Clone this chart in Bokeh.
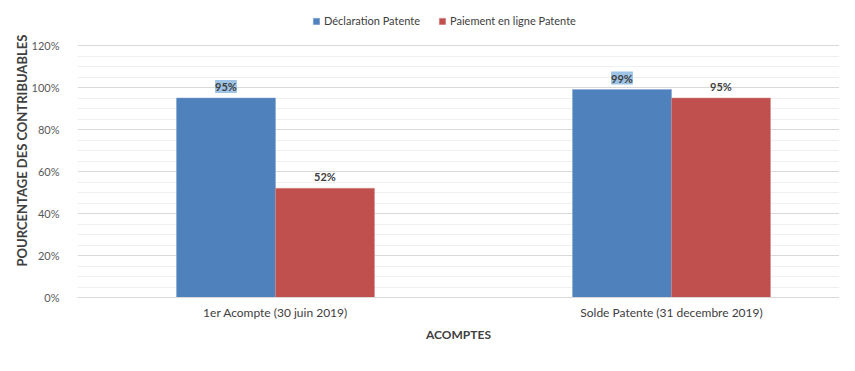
from bokeh.plotting import figure
from bokeh.models import (Range1d, FixedTicker, ColumnDataSource, Legend, LegendItem,
                          NumeralTickFormatter)
from bokeh.core.properties import value
from bokeh.embed import file_html
from bokeh.resources import INLINE

categories = ["1er Acompte (30 juin 2019)", "Solde Patente (31 decembre 2019)"]
series_names = ["Déclaration Patente", "Paiement en ligne Patente"]
declaration = [0.95, 0.99]
paiement = [0.52, 0.95]
y_ticks = [0, 0.2, 0.4, 0.6, 0.8, 1.0, 1.2]
y_minor = [0.05, 0.10, 0.15, 0.25, 0.30, 0.35, 0.45, 0.50, 0.55, 0.65, 0.70, 0.75,
           0.85, 0.90, 0.95, 1.05, 1.10, 1.15]

FONT = "Lato"
BLUE = "#4f81bd"
RED = "#c0504d"

pos = [i + 0.5 for i in range(len(categories))]
bw = 0.25

p = figure(width=839, height=352, output_backend="svg", toolbar_location=None,
           x_range=Range1d(0, 762 / 396), y_range=Range1d(0, 297 / 210),
           min_border_left=77, min_border_right=0, min_border_top=0, min_border_bottom=55)
p.outline_line_color = None

src1 = ColumnDataSource(dict(x=[v - bw / 2 for v in pos], top=declaration,
                             lbl=[f"{round(v*100)}%" for v in declaration]))
src2 = ColumnDataSource(dict(x=[v + bw / 2 for v in pos], top=paiement,
                             lbl=[f"{round(v*100)}%" for v in paiement]))

r1 = p.vbar(x="x", top="top", width=bw, source=src1, fill_color=BLUE, line_color="#7ea3d0", line_width=0.5)
r2 = p.vbar(x="x", top="top", width=bw, source=src2, fill_color=RED, line_color="#d08a88", line_width=0.5)

p.text(x="x", y="top", text="lbl", source=src1, text_align="center", text_baseline="bottom",
       y_offset=-5, text_font=value(FONT), text_font_size="11px", text_font_style="bold",
       text_color="#404040", background_fill_color="#9dc3e6")
p.text(x="x", y="top", text="lbl", source=src2, text_align="center", text_baseline="bottom",
       y_offset=-5, text_font=value(FONT), text_font_size="11px", text_font_style="bold",
       text_color="#404040")

# grid
p.xgrid.grid_line_color = None
p.ygrid.grid_line_color = "#d9d9d9"
p.ygrid.minor_grid_line_color = "#efefef"

p.yaxis.ticker = FixedTicker(ticks=y_ticks, minor_ticks=y_minor)
p.yaxis.formatter = NumeralTickFormatter(format="0%")
p.yaxis.axis_line_color = None
p.yaxis.major_tick_line_color = None
p.yaxis.minor_tick_line_color = None
p.yaxis.major_label_text_font = FONT
p.yaxis.major_label_text_font_size = "11px"
p.yaxis.major_label_text_color = "#595959"
p.yaxis.major_label_standoff = 12
p.yaxis.axis_label = "POURCENTAGE  DES CONTRIBUABLES"
p.yaxis.axis_label_text_font = FONT
p.yaxis.axis_label_text_font_size = "13px"
p.yaxis.axis_label_text_font_style = "bold"
p.yaxis.axis_label_text_color = "#404040"
p.yaxis.axis_label_standoff = -1

p.xaxis.ticker = FixedTicker(ticks=pos)
p.xaxis.major_label_overrides = {v: c for v, c in zip(pos, categories)}
p.xaxis.axis_line_color = "#d9d9d9"
p.xaxis.major_tick_line_color = None
p.xaxis.minor_tick_line_color = None
p.xaxis.major_label_text_font = FONT
p.xaxis.major_label_text_font_size = "12px"
p.xaxis.major_label_text_color = "#404040"
p.xaxis.major_label_standoff = 1
p.xaxis.axis_label = "ACOMPTES"
p.xaxis.axis_label_text_font = FONT
p.xaxis.axis_label_text_font_size = "12px"
p.xaxis.axis_label_text_font_style = "bold"
p.xaxis.axis_label_text_color = "#404040"
p.xaxis.axis_label_standoff = 4

legend = Legend(items=[LegendItem(label=series_names[0], renderers=[r1]),
                       LegendItem(label=series_names[1], renderers=[r2])],
                orientation="horizontal", location=(235, 270),
                label_text_font=FONT, label_text_font_size="11px", label_text_color="#404040",
                glyph_width=8, glyph_height=8, spacing=18, label_standoff=4,
                border_line_color=None, background_fill_alpha=0, padding=2, margin=0)
p.add_layout(legend, "center")

open("out.html", "w").write(file_html(p, INLINE))
